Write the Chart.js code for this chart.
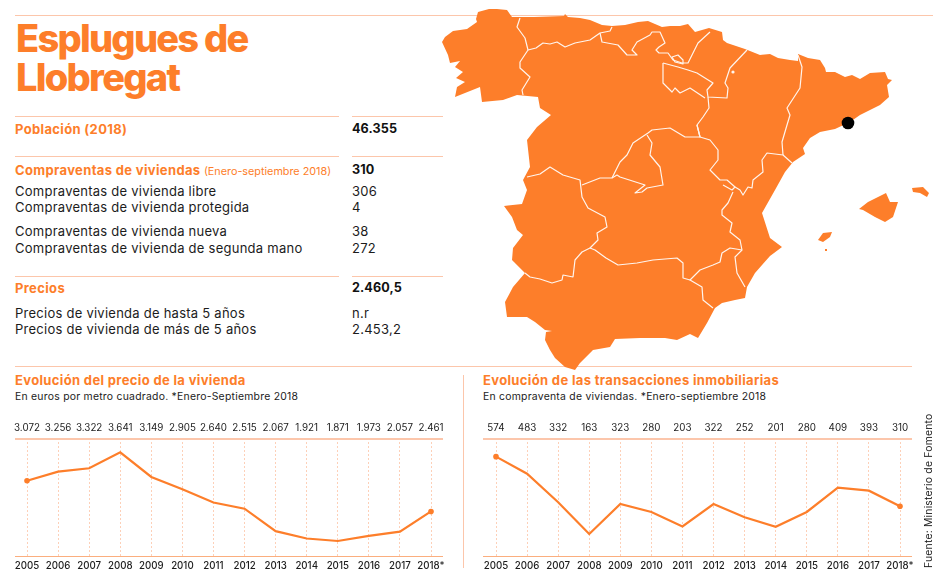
<!DOCTYPE html>
<html lang="es">
<head>
<meta charset="utf-8">
<title>Esplugues de Llobregat</title>
<script src="https://cdn.jsdelivr.net/npm/chart.js@4"></script>
<style>
  html, body { margin: 0; padding: 0; background: #fff; }
  #page { position: relative; width: 948px; height: 583px; overflow: hidden; font-family: Inter, sans-serif; color: #1c1c1c; }
  .rule { position: absolute; height: 1px; background: #fcc6ab; }
  .t { position: absolute; white-space: nowrap; line-height: 16px; font-size: 13px; letter-spacing: .25px; }
  .o { color: #fd7e2a; font-weight: 700; letter-spacing: .35px; }
  .b { font-weight: 700; color: #111; font-size: 12.6px; letter-spacing: .1px; }
  h1 { position: absolute; margin: 0; left: 16px; top: 19px; font-size: 38px; line-height: 39px; font-weight: 800; color: #fd7e2a; letter-spacing: -1.75px; }
  h2 { position: absolute; margin: 0; white-space: nowrap; font-size: 13px; line-height: 16px; font-weight: 700; color: #fd7e2a; letter-spacing: .35px; }
  .sub { font-size: 10.4px; letter-spacing: .25px; }
  .wrap { position: absolute; top: 415px; height: 168px; }
  #map { position: absolute; left: 0; top: 0; }
</style>
</head>
<body>
<div id="page">
  <div class="rule" style="left:15px;top:15px;width:918px"></div>
  <div class="rule" style="left:15px;top:116px;width:324px"></div>
  <div class="rule" style="left:352px;top:116px;width:91px"></div>
  <div class="rule" style="left:15px;top:156px;width:324px"></div>
  <div class="rule" style="left:352px;top:156px;width:91px"></div>
  <div class="rule" style="left:15px;top:276px;width:324px"></div>
  <div class="rule" style="left:352px;top:276px;width:91px"></div>
  <div class="rule" style="left:15px;top:366px;width:897px"></div>
  <div class="rule" style="left:463px;top:375px;width:1px;height:193px"></div>

  <svg id="map" width="948" height="583" viewBox="0 0 948 583">
    <path fill="#fd7e2a" d="M442,42 L445,37 453,31 467,29 477,22 476,19 478,12 489,9 497,9 507,10 512,17 521,17 534,17 564,16 565,14 568,17 580,18 590,20 602,25 612,26 625,25 638,22 648,21 655,24 662,27 670,26 680,26 688,24 695,32 709,28 722,32 723,40 727,43 745,49 760,55 770,54 778,58 790,60 798,61 798,54 808,58 820,60 825,68 826,72 835,72 845,77 852,75 860,79 870,73 885,72 888,79 892,80 887,85 889,97 880,105 860,115 850,122 835,129 820,132 810,138 803,148 805,154 793,162 785,172 775,190 762,213 770,238 782,247 770,256 755,273 747,287 745,298 735,300 722,303 715,308 707,323 698,338 690,334 677,340 665,338 640,338 615,339 610,347 593,350 580,363 575,370 565,367 555,358 550,350 545,340 546,332 552,331 545,330 535,322 527,317 507,317 505,302 513,287 525,273 512,260 513,248 523,235 517,230 512,217 504,206 522,204 527,190 523,180 530,167 527,140 537,127 551,115 540,108 538,97 517,95 503,100 482,102 480,87 455,97 457,87 465,82 456,78 463,72 455,67 460,61 450,63 448,55 Z"/>
    <path fill="#fd7e2a" d="M859,209 L868,202 886,193 890,202 898,202 893,217 885,222 875,217 863,210 Z"/>
    <path fill="#fd7e2a" d="M912,188 L923,187 929,193 927,197 920,193 913,192 Z"/>
    <path fill="#fd7e2a" d="M818,240 L823,233 832,232 830,237 823,242 Z"/>
    <path fill="#fd7e2a" d="M825,249 L827,249 827,251 825,251 Z"/>
    <g fill="none" stroke="#fff5ee" stroke-width="1.2" stroke-linejoin="round">
      <path d="M520,18 L517,27 525,38 528,50 520,62 520,68 530,77 522,90 523,95"/>
      <path d="M528,50 L536,48 543,43 550,44 557,42 565,47 575,43 590,40 600,33 610,31 612,27"/>
      <path d="M600,33 L602,42 618,45 627,55 637,55 632,50 637,42 650,35 652,32 660,32 665,43 659,47 656,50 659,53 668,53 673,60 682,63 688,63 693,53 698,43 710,32"/>
      <path d="M672,57 L678,55 683,60 683,64 675,62 Z"/>
      <path d="M663,63 L663,83 672,92 675,88 680,93 690,88 705,98"/>
      <path d="M663,63 L678,67 688,70 697,73 713,83 707,90 708,97 727,98 728,88 725,83 730,68 747,50"/>
      <path d="M708,97 L709,108 703,117 697,125 700,137 710,140 718,150 718,160 710,170 720,180 727,180 735,187 732,190 723,185"/>
      <path d="M733,192 L728,203 722,210 722,215 732,223 730,232 740,240 742,250 735,257 737,273 745,287"/>
      <path d="M735,187 L740,190 743,195 748,187 752,188 753,180 763,172 762,160 767,153 783,155 792,163"/>
      <path d="M798,55 L802,67 800,88 787,108 790,115 787,125 782,142 783,155"/>
      <path d="M742,250 L730,248 722,253 720,262 713,265 700,270 690,280 702,287 703,300 713,308"/>
      <path d="M525,273 L530,277 540,279 552,283 562,280 563,275 573,277 575,260 582,252 590,248 595,250 606,258 618,265 637,263 653,260 677,258 683,263 683,278 690,280"/>
      <path d="M590,248 L598,240 597,233 607,227 605,217 588,208 582,197 580,180 563,175 550,167 540,174 527,177"/>
      <path d="M582,185 L600,178 612,178 617,175 620,177 645,185 635,193 642,192 647,188 663,185 660,167 650,155 652,143 647,135"/>
      <path d="M612,178 L620,162 627,155 633,143 648,133 652,130 670,128 685,137 700,137 697,125"/>
    </g>
    <circle cx="733" cy="72" r="1.6" fill="#fff5ee"/>
    <circle cx="848" cy="123" r="6.3" fill="#000"/>
  </svg>

  <h1>Esplugues de<br>Llobregat</h1>

  <div class="t o" style="left:15px;top:121px">Población (2018)</div>
  <div class="t b" style="left:352px;top:121px">46.355</div>
  <div class="t o" style="left:15px;top:162px">Compraventas de viviendas <span style="font-weight:400;font-size:10.8px;letter-spacing:0">(Enero-septiembre 2018)</span></div>
  <div class="t b" style="left:352px;top:162px">310</div>
  <div class="t" style="left:15px;top:183px">Compraventas de vivienda libre</div>
  <div class="t" style="left:352px;top:183px">306</div>
  <div class="t" style="left:15px;top:199px">Compraventas de vivienda protegida</div>
  <div class="t" style="left:352px;top:199px">4</div>
  <div class="t" style="left:15px;top:223px">Compraventas de vivienda nueva</div>
  <div class="t" style="left:352px;top:223px">38</div>
  <div class="t" style="left:15px;top:240px">Compraventas de vivienda de segunda mano</div>
  <div class="t" style="left:352px;top:240px">272</div>
  <div class="t o" style="left:15px;top:280px">Precios</div>
  <div class="t b" style="left:352px;top:280px">2.460,5</div>
  <div class="t" style="left:15px;top:305px">Precios de vivienda de hasta 5 años</div>
  <div class="t" style="left:352px;top:305px">n.r</div>
  <div class="t" style="left:15px;top:321px">Precios de vivienda de más de 5 años</div>
  <div class="t" style="left:352px;top:321px">2.453,2</div>

  <h2 style="left:15px;top:372px">Evolución del precio de la vivienda</h2>
  <div class="t sub" style="left:15px;top:389px">En euros por metro cuadrado. *Enero-Septiembre 2018</div>
  <h2 style="left:483px;top:372px">Evolución de las transacciones inmobiliarias</h2>
  <div class="t sub" style="left:483px;top:389px">En compraventa de viviendas. *Enero-septiembre 2018</div>

  <div class="wrap" style="left:0;width:470px"><canvas id="priceChart"></canvas></div>
  <div class="wrap" style="left:470px;width:478px"><canvas id="salesChart"></canvas></div>

  <div class="rule" style="left:15px;top:438px;width:428px;height:2px"></div>
  <div class="rule" style="left:15px;top:556px;width:428px;background:#fbae7e"></div>
  <div class="rule" style="left:483px;top:438px;width:429px;height:2px"></div>
  <div class="rule" style="left:483px;top:556px;width:429px;background:#fbae7e"></div>

  <div class="t" style="left:929px;top:568px;font-size:10.4px;letter-spacing:.2px;transform-origin:0 0;transform:rotate(-90deg) translateY(-8px)">Fuente: Ministerio de Fomento</div>
</div>

<script>
const years = ['2005', '2006', '2007', '2008', '2009', '2010', '2011', '2012', '2013', '2014', '2015', '2016', '2017', '2018*'];
const priceValues = [3072, 3256, 3322, 3641, 3149, 2905, 2640, 2515, 2067, 1921, 1871, 1973, 2057, 2461];
const priceLabels = ['3.072', '3.256', '3.322', '3.641', '3.149', '2.905', '2.640', '2.515', '2.067', '1.921', '1.871', '1.973', '2.057', '2.461'];
const salesValues = [574, 483, 332, 163, 323, 280, 203, 322, 252, 201, 280, 409, 393, 310];
const salesLabels = ['574', '483', '332', '163', '323', '280', '203', '322', '252', '201', '280', '409', '393', '310'];

const orange = '#fd7e2a';

// ejes sin padding extra, para que el area quede donde toca
function fixAxis(height) {
    return scale => {
        scale.height = height;
        scale.paddingLeft = 0;
        scale.paddingRight = 0;
    };
}

function makeChart(id, values, labels, yMin, yMax, padLeft, padRight) {
    const ctx = document.getElementById(id).getContext('2d');
    return new Chart(ctx, {
        type: 'line',
        data: {
            labels: years,
            datasets: [{
                data: values,
                borderColor: orange,
                backgroundColor: orange,
                borderWidth: 2.2,
                tension: 0,
                pointRadius: c => (c.dataIndex === 0 || c.dataIndex === values.length - 1) ? 2.8 : 0,
                pointBorderWidth: 0
            }]
        },
        options: {
            responsive: true,
            maintainAspectRatio: false,
            animation: false,
            events: [],
            layout: { padding: { left: padLeft, right: padRight, top: 0, bottom: 0 } },
            plugins: { legend: { display: false }, tooltip: { enabled: false } },
            scales: {
                x: {
                    type: 'category',
                    offset: false,
                    position: 'bottom',
                    afterFit: fixAxis(27),
                    border: { display: false, dash: [2, 2] },
                    grid: { color: '#fdd0b8', lineWidth: 1, drawTicks: false },
                    ticks: { color: '#1c1c1c', font: { family: 'Inter', size: 9.7, weight: 500 }, padding: 4, maxRotation: 0, autoSkip: false }
                },
                top: {
                    type: 'category',
                    labels: labels,
                    offset: false,
                    position: 'top',
                    afterFit: fixAxis(23),
                    border: { display: false },
                    grid: { display: false, drawTicks: false },
                    ticks: { color: '#1c1c1c', font: { family: 'Inter', size: 9.8 }, padding: 4, maxRotation: 0, autoSkip: false }
                },
                y: {
                    display: false,
                    min: yMin,
                    max: yMax
                }
            }
        }
    });
}

makeChart('priceChart', priceValues, priceLabels, 1572, 3926, 27, 39);
makeChart('salesChart', salesValues, salesLabels, 46, 673, 26, 48);
</script>
</body>
</html>
